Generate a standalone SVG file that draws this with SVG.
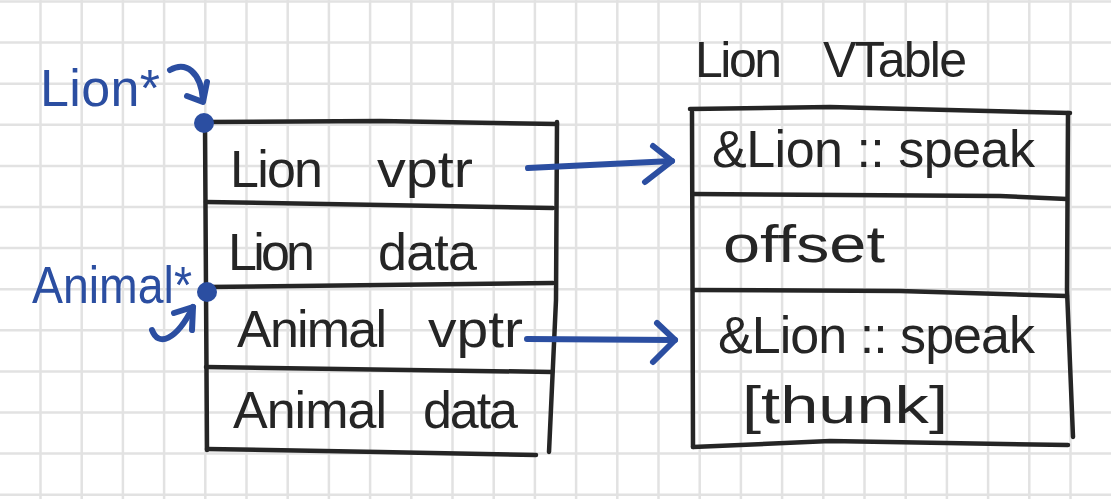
<svg xmlns="http://www.w3.org/2000/svg" width="1111" height="499" viewBox="0 0 1111 499">
<style>
.grid{stroke:#e2e2e2;stroke-width:2.5;fill:none}
.ink{stroke:#252525;stroke-width:4.5;fill:none;stroke-linecap:round;stroke-linejoin:round}
.blue{stroke:#2b4ea1;stroke-width:6;fill:none;stroke-linecap:round;stroke-linejoin:round}
.bluefill{fill:#2b4ea1}
.t{font-family:"Liberation Sans",Arial,sans-serif;font-size:52px;fill:#252525}
.tb{font-family:"Liberation Sans",Arial,sans-serif;font-size:52px;fill:#2b4ea1}
</style>
<rect width="1111" height="499" fill="#ffffff"/>
<g id="grid">
<path class="grid" d="M40.5,0V499M81.7,0V499M122.9,0V499M164.1,0V499M205.3,0V499M246.5,0V499M287.7,0V499M328.9,0V499M370.1,0V499M411.3,0V499M452.5,0V499M493.7,0V499M534.9,0V499M576.1,0V499M617.3,0V499M658.5,0V499M699.7,0V499M740.9,0V499M782.1,0V499M823.3,0V499M864.5,0V499M905.7,0V499M946.9,0V499M988.1,0V499M1029.3,0V499M1070.5,0V499"/>
<path class="grid" d="M0,1.5H1111M0,42.6H1111M0,83.7H1111M0,124.8H1111M0,165.9H1111M0,207H1111M0,248.1H1111M0,289.2H1111M0,330.3H1111M0,371.4H1111M0,412.5H1111M0,453.6H1111M0,494.7H1111"/>
</g>
<g id="lion-ptr">
<text class="tb" x="40" y="106" textLength="120">Lion*</text>
</g>
<g id="animal-ptr">
<text class="tb" x="32" y="303" textLength="160" lengthAdjust="spacingAndGlyphs">Animal*</text>
</g>
<g id="lion-object">
<path class="ink" d="M205,122 L380,121 L557,124"/>
<path class="ink" d="M557,122 L556,300 L549,452"/>
<path class="ink" d="M205,123 L206,290 L207,450"/>
<path class="ink" d="M206,202 L553,208"/>
<path class="ink" d="M206,287 L553,283"/>
<path class="ink" d="M206,367 L552,372"/>
<path class="ink" d="M207,449 L380,452 L536,455"/>
<text class="t" y="187"><tspan x="230" textLength="93">Lion</tspan> <tspan x="377" textLength="96" lengthAdjust="spacingAndGlyphs">vptr</tspan></text>
<text class="t" y="270"><tspan x="228" textLength="87">Lion</tspan> <tspan x="378" textLength="99">data</tspan></text>
<text class="t" y="347"><tspan x="237" textLength="150">Animal</tspan> <tspan x="428" textLength="95" lengthAdjust="spacingAndGlyphs">vptr</tspan></text>
<text class="t" y="428"><tspan x="233" textLength="154">Animal</tspan> <tspan x="423" textLength="95">data</tspan></text>
</g>
<g id="lion-vtable">
<text class="t" y="77" style="font-size:50px"><tspan x="695" textLength="87">Lion</tspan> <tspan x="823" textLength="144">VTable</tspan></text>
<path class="ink" d="M690,109 L830,107 L1070,113"/>
<path class="ink" d="M692,112 L693,447"/>
<path class="ink" d="M1068,113 L1067,290 L1073,437"/>
<path class="ink" d="M693,194 L1000,196 L1067,199"/>
<path class="ink" d="M693,290 L900,291 L1067,296"/>
<path class="ink" d="M693,447 L830,441 L1068,445"/>
<text class="t" x="712" y="167" textLength="323">&amp;Lion :: speak</text>
<text class="t" x="723" y="262" textLength="162" lengthAdjust="spacingAndGlyphs">offset</text>
<text class="t" x="718" y="353" textLength="317">&amp;Lion :: speak</text>
<text class="t" x="742" y="423" textLength="206" lengthAdjust="spacingAndGlyphs">[thunk]</text>
</g>
<g id="connectors">
<circle class="bluefill" cx="204" cy="123" r="10"/>
<circle class="bluefill" cx="207" cy="292" r="10"/>
<path class="blue" d="M170,70 C186,61 201,72 203,100"/>
<path class="blue" d="M187,96 L203,102 L207,82"/>
<path class="blue" d="M152,330 C158,347 176,341 193,307"/>
<path class="blue" d="M174,313 L193,307 L192,330"/>
<path class="blue" d="M528,168 L672,161"/>
<path class="blue" d="M653,146 L672,161 L645,182"/>
<path class="blue" d="M527,339 L675,340"/>
<path class="blue" d="M657,323 L675,340 L653,362"/>
</g>
</svg>
